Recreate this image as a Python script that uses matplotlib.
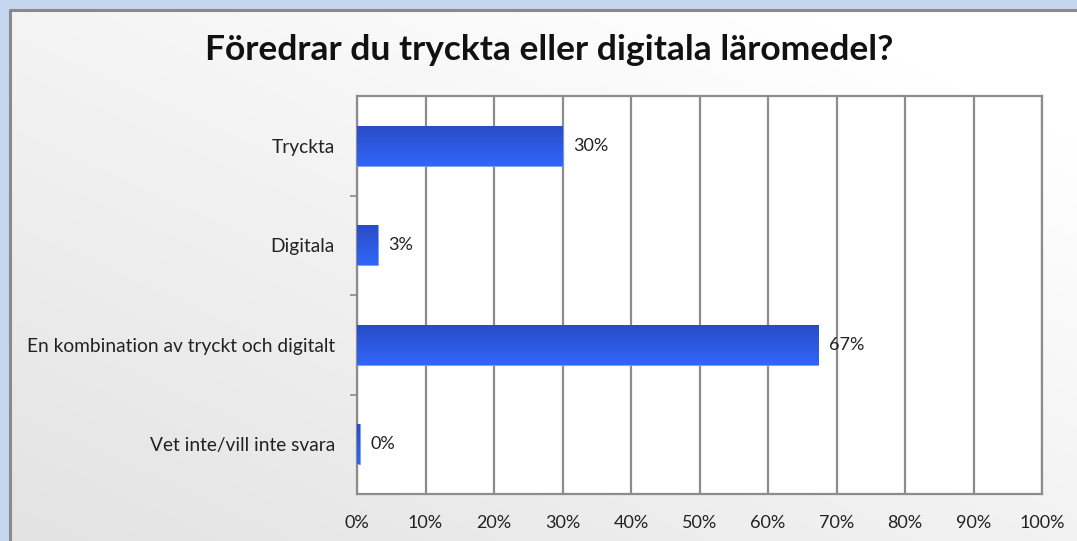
import numpy as np
import matplotlib
matplotlib.use("Agg")
import matplotlib.pyplot as plt

categories = ["Tryckta", "Digitala", "En kombination av tryckt och digitalt", "Vet inte/vill inte svara"]
values = [30.0, 3.0, 67.3, 0.4]
labels = ["30%", "3%", "67%", "0%"]
xticks = [0, 10, 20, 30, 40, 50, 60, 70, 80, 90, 100]
xticklabels = [f"{t}%" for t in xticks]
title = "Föredrar du tryckta eller digitala läromedel?"

W, H = 1077, 541
fig = plt.figure(figsize=(W / 100, H / 100), dpi=100)
fig.patch.set_facecolor("#c6d6ee")

# chart area background with gradient
bg = fig.add_axes([10 / W, 0, 1 - 10 / W, 1 - 10 / H])
bg.set_axis_off()
yy, xx = np.mgrid[0:1:200j, 0:1:400j]
g = np.clip(0.55 * xx + 0.6 * yy, 0, 1)
c0 = np.array([0.89, 0.89, 0.89])
c1 = np.array([1.0, 1.0, 1.0])
img = c0[None, None, :] * (1 - g[..., None]) + c1[None, None, :] * g[..., None]
bg.imshow(img, extent=[0, 1, 0, 1], origin="lower", aspect="auto")
bg.set_xlim(0, 1)
bg.set_ylim(0, 1)
bg.plot([0, 0, 1.01], [-0.01, 1, 1], color="#8a8a8a", lw=2.2, transform=bg.transAxes, clip_on=False)

font = "Lato"
plt.rcParams["font.family"] = [font, "DejaVu Sans"]

left, right, top, bottom = 357, 1042, 96, 494
ax = fig.add_axes([left / W, 1 - bottom / H, (right - left) / W, (bottom - top) / H])
ax.set_facecolor("white")
y = np.arange(len(categories))
bars = ax.barh(y, values, height=0.4, color="#2d5be6", edgecolor="#7f9cf0", linewidth=0.6, zorder=3)

# gradient on bars
grad = np.linspace(0, 1, 50)[:, None, None]
top_c = np.array([0.16, 0.30, 0.78])
bot_c = np.array([0.19, 0.40, 0.98])
gimg = top_c * (1 - grad) + bot_c * grad
for b in bars:
    x0, y0, w, h = b.get_x(), b.get_y(), b.get_width(), b.get_height()
    im = ax.imshow(np.repeat(gimg, 2, axis=1), extent=[x0, x0 + w, y0 + h, y0], aspect="auto", zorder=4, origin="upper")
    im.set_clip_path(b)
ax.set_xlim(0, 100)
ax.set_ylim(len(categories) - 0.5, -0.5)

for yi, v, lab in zip(y, values, labels):
    ax.text(v + 1.6, yi, lab, va="center", ha="left", fontsize=13, color="#222222", zorder=5)

ax.set_xticks(xticks)
ax.set_xticklabels(xticklabels, fontsize=13, color="#222222")
ax.set_yticks(y)
ax.set_yticklabels(categories, fontsize=13.8, color="#222222")
ax.tick_params(axis="y", length=0, pad=16)
ax.tick_params(axis="x", length=0, pad=15)
ax.set_yticks(np.arange(0.5, len(categories) - 0.5, 1), minor=True)
ax.tick_params(axis="y", which="minor", length=5, color="#8a8a8a", width=1.2, direction="out")
ax.grid(axis="x", color="#8c8c8c", lw=1.6, zorder=1)
for s in ax.spines.values():
    s.set_color("#8c8c8c")
    s.set_linewidth(1.6)

fig.text(549 / W, 1 - 50 / H, title, ha="center", va="center", fontsize=25.5, fontweight="bold", color="#111111")

fig.savefig("out.png", dpi=100, facecolor=fig.get_facecolor())
